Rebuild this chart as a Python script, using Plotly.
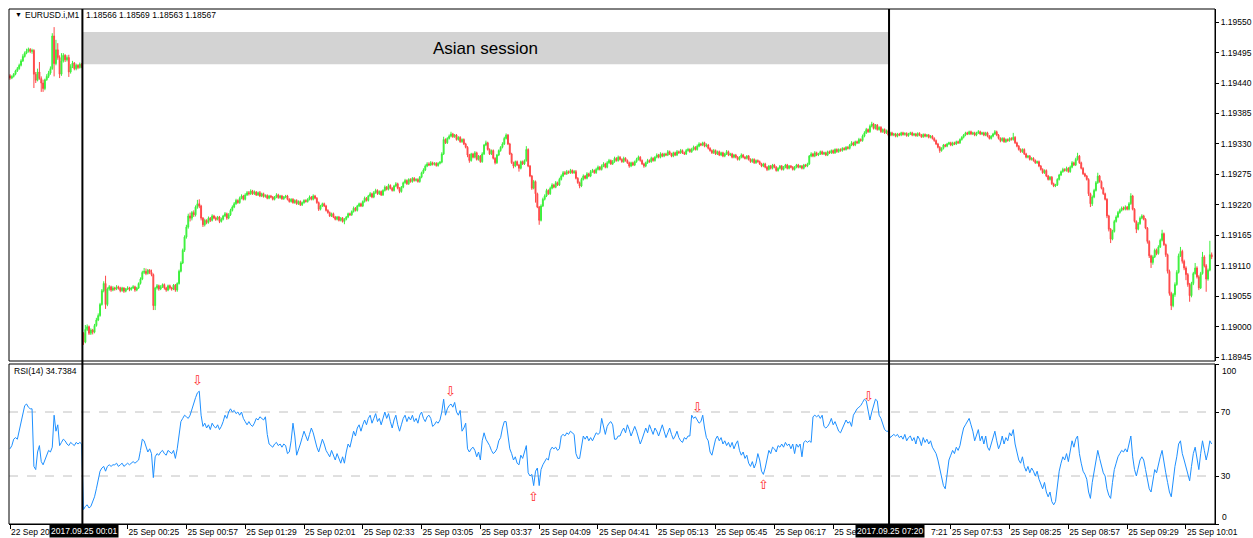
import plotly.graph_objects as go

# ---------------- data (prices stored as points above BASE, 1 point = 0.00001) ----------------
BASE = 1.18900
PT = 0.00001

opens_pts = [
    553,549,552,556,562,566,572,580,588,594,
    598,601,597,599,556,545,560,548,540,530,
    546,552,558,566,625,575,600,586,556,580,
    590,582,586,560,570,576,566,572,568,574,
    88,72,95,100,88,94,90,102,112,120,
    140,165,178,140,168,172,166,170,168,172,
    170,165,170,164,168,170,167,170,172,166,
    170,178,186,198,200,196,202,198,194,138,
    170,174,168,172,176,170,166,174,170,168,
    175,166,178,200,215,238,262,280,300,296,
    306,302,316,322,318,296,284,292,288,296,
    292,300,296,294,298,290,294,300,304,296,
    302,310,316,322,328,324,332,336,330,338,
    342,340,345,340,343,338,342,336,340,335,
    337,332,336,334,330,334,338,333,336,331,
    334,336,330,326,330,324,328,322,326,320,
    324,328,326,330,334,330,336,332,324,312,
    318,322,318,310,306,300,304,298,294,298,
    292,296,290,294,298,304,302,308,314,310,
    318,322,318,326,332,328,336,340,334,342,
    346,340,344,338,346,352,348,355,350,346,
    354,358,350,344,352,360,364,358,366,362,
    368,364,366,362,370,378,383,390,394,392,
    396,393,395,391,395,397,412,438,432,440,
    444,448,443,446,438,442,434,438,430,424,
    410,400,412,406,414,402,408,398,412,428,
    432,420,412,418,404,396,410,418,424,430,
    440,446,430,412,396,390,398,392,386,398,
    394,400,420,390,372,350,362,340,316,292,
    318,330,336,346,340,350,356,352,360,356,
    366,372,378,376,380,378,382,378,380,368,
    360,354,366,372,368,376,372,380,382,378,
    384,388,384,390,394,388,396,400,394,398,
    404,400,406,402,398,404,400,396,390,396,
    392,398,402,406,400,394,390,396,400,398,
    404,400,406,410,406,412,408,412,410,416,
    412,408,414,410,416,414,418,414,412,418,
    420,416,420,424,420,426,430,428,432,426,
    428,422,418,414,418,412,416,410,414,408,
    412,416,410,412,406,410,406,402,406,410,
    406,404,408,402,398,402,396,400,398,394,
    390,394,388,384,390,386,392,388,382,386,
    390,384,388,392,386,390,388,384,388,392,
    388,390,386,392,390,394,408,412,408,414,
    410,412,416,412,414,410,416,414,418,414,
    420,416,420,418,422,420,424,422,428,432,
    428,434,432,438,436,444,450,456,452,462,
    466,458,464,456,460,452,456,450,454,446,
    450,446,448,444,448,446,450,447,449,445,
    448,450,446,448,445,449,446,443,447,444,
    446,442,444,440,436,430,424,418,422,428,
    426,430,432,428,432,430,434,432,438,442,
    446,450,448,452,448,450,446,450,452,448,
    450,446,450,444,440,444,448,452,446,440,
    436,440,434,438,436,440,438,442,432,426,
    420,416,420,412,406,408,402,404,400,396,
    398,390,384,378,382,372,366,370,358,354,
    356,366,374,380,384,382,386,380,388,396,
    392,402,408,396,386,376,372,366,340,322,
    334,346,360,372,362,350,340,330,300,276,
    258,272,290,298,306,310,314,312,316,312,
    322,336,312,290,276,286,296,300,294,278,
    254,228,216,226,238,232,244,256,268,248,
    230,200,160,138,158,176,198,228,236,218,
    206,194,176,156,178,196,206,190,170,196,
    226,210,186,202,230,
]

highs_pts = [
    556,554,558,564,569,575,583,592,597,602,
    604,603,602,601,560,566,578,552,546,548,
    556,562,570,630,641,618,612,590,594,594,
    592,590,591,574,580,578,575,574,577,576,
    90,103,104,102,97,96,105,116,124,143,
    168,182,192,171,175,174,173,172,175,174,
    172,172,171,170,173,172,172,175,174,172,
    180,189,201,206,205,204,204,203,196,172,
    177,176,175,178,178,172,176,176,172,177,
    177,180,203,218,241,265,284,304,306,309,
    310,319,329,330,320,298,295,294,299,298,
    303,302,299,300,300,297,302,307,306,305,
    313,319,325,331,330,335,339,338,341,345,
    345,348,347,346,345,344,345,342,342,339,
    339,338,338,336,336,341,340,338,338,336,
    338,338,332,332,332,330,330,328,328,326,
    330,330,332,337,336,339,338,334,326,320,
    324,324,320,312,308,306,306,300,300,300,
    298,298,296,300,306,306,310,317,316,320,
    324,324,328,335,334,338,343,342,345,349,
    348,346,346,348,355,354,358,357,352,356,
    361,360,352,354,362,367,366,368,368,370,
    370,368,368,372,380,386,393,397,397,399,
    398,397,397,397,399,415,443,440,442,447,
    452,450,448,448,444,444,440,440,432,426,
    412,414,414,417,416,410,410,415,430,436,
    434,422,420,420,406,412,420,426,433,443,
    449,448,432,414,398,400,400,394,400,400,
    402,426,422,392,374,365,364,342,318,321,
    333,339,349,348,353,359,358,363,362,369,
    375,381,381,383,382,385,384,383,383,370,
    362,369,375,374,379,378,383,385,384,387,
    391,390,393,397,396,399,403,402,401,407,
    406,409,408,404,407,406,402,398,398,398,
    400,405,409,408,402,396,398,403,402,407,
    406,408,413,412,415,414,414,414,419,418,
    414,416,416,419,418,421,420,416,421,423,
    422,423,427,426,429,433,432,434,434,431,
    430,424,420,421,420,418,418,416,416,414,
    419,418,414,414,412,412,408,408,413,412,
    408,410,410,404,404,404,402,402,400,396,
    396,396,390,392,392,394,394,390,388,392,
    392,390,394,394,392,392,390,390,394,394,
    392,392,394,394,396,410,415,414,417,416,
    414,418,418,416,416,418,418,420,420,422,
    422,422,422,424,424,426,426,430,435,434,
    436,436,441,440,447,453,459,458,465,470,
    468,466,466,462,462,458,458,456,456,452,
    452,450,450,450,450,452,452,451,451,450,
    452,452,450,450,451,451,448,449,449,448,
    448,446,446,442,438,432,426,424,430,430,
    432,434,434,434,434,436,436,440,444,448,
    452,452,454,454,452,452,452,455,454,452,
    452,452,452,446,446,450,455,454,448,442,
    442,442,440,440,442,442,450,444,434,428,
    422,422,422,414,410,410,406,406,402,400,
    400,392,386,384,384,374,372,372,360,358,
    368,376,382,387,386,389,388,391,399,398,
    405,414,410,398,388,378,374,368,342,337,
    349,363,378,374,364,352,342,332,302,278,
    275,293,301,309,313,317,317,319,318,325,
    341,338,314,292,289,299,303,302,296,280,
    256,230,229,241,241,247,259,275,270,250,
    232,203,163,161,180,202,232,244,239,221,
    209,197,179,181,199,215,209,193,199,235,
    229,213,205,255,234,
]

lows_pts = [
    546,547,550,554,560,564,570,578,586,592,
    595,594,593,531,540,543,546,524,524,527,
    544,549,555,564,552,572,582,549,553,577,
    578,579,551,557,567,563,563,565,566,567,
    67,70,92,85,85,86,88,100,110,118,
    138,162,132,137,165,163,164,165,166,167,
    162,163,161,162,166,164,165,168,163,164,
    168,176,184,195,193,194,195,191,130,130,
    167,165,166,170,167,163,164,167,165,166,
    163,163,176,198,213,235,259,277,290,292,
    298,299,313,314,292,280,281,285,286,289,
    290,294,291,292,287,288,292,298,293,294,
    300,308,314,320,322,322,330,328,328,336,
    337,338,338,338,336,336,334,334,333,333,
    330,330,332,328,328,332,331,331,329,329,
    332,328,324,324,322,322,320,320,318,318,
    322,324,324,328,328,328,330,322,309,310,
    316,316,308,304,298,298,296,292,292,290,
    290,288,285,292,296,300,300,306,308,308,
    316,316,316,324,326,326,334,332,332,340,
    338,338,336,336,344,346,346,348,344,344,
    352,348,341,342,350,358,356,356,360,360,
    362,362,360,360,368,376,381,388,390,390,
    391,391,389,389,393,395,410,430,430,438,
    442,441,441,436,436,432,432,428,422,406,
    396,398,404,404,400,400,396,396,410,426,
    418,410,410,402,393,394,408,416,422,428,
    438,428,410,394,386,388,390,380,384,392,
    392,398,388,370,347,348,324,314,284,290,
    316,328,334,338,338,348,350,350,354,354,
    364,370,374,374,376,376,376,376,366,358,
    350,352,364,366,366,370,370,378,376,376,
    382,382,382,388,386,386,394,392,392,396,
    398,398,400,396,396,398,394,387,388,390,
    390,396,400,398,392,387,388,394,396,396,
    398,398,404,404,404,406,406,408,408,410,
    406,406,408,408,412,412,412,410,410,416,
    414,414,418,418,418,424,426,426,424,424,
    420,416,412,412,410,410,408,408,406,406,
    410,408,408,404,404,404,400,400,404,404,
    402,402,400,396,396,394,394,396,392,388,
    388,386,381,382,384,384,386,380,380,384,
    382,382,386,384,384,386,382,382,386,386,
    386,384,384,388,388,392,406,406,406,408,
    408,410,410,410,408,408,412,412,412,412,
    414,414,416,416,418,418,420,420,426,426,
    426,430,430,434,434,442,448,450,450,460,
    456,456,454,454,450,450,448,448,444,444,
    444,444,442,442,444,444,445,445,443,443,
    446,444,444,443,443,444,441,441,442,442,
    440,440,438,434,428,422,414,416,420,424,
    424,428,426,426,428,428,430,430,436,440,
    444,446,446,446,446,444,444,448,446,446,
    444,444,442,438,438,442,446,444,438,433,
    434,432,432,434,434,436,436,430,424,418,
    414,414,410,404,404,400,400,398,394,394,
    388,382,376,376,370,364,364,356,352,352,
    354,364,372,378,380,380,378,378,386,390,
    390,400,394,384,374,370,364,336,316,318,
    332,344,358,360,348,338,328,296,272,251,
    256,270,288,296,304,308,310,310,310,310,
    320,310,288,269,274,284,294,292,276,250,
    224,206,212,224,229,230,242,254,246,226,
    196,156,130,135,154,174,196,226,214,202,
    184,172,145,153,175,194,187,166,168,194,
    207,163,183,200,222,
]

closes_pts = [
    549,552,556,562,566,572,580,588,594,598,
    601,597,599,556,545,560,548,540,530,546,
    552,558,566,625,575,600,586,556,580,590,
    582,586,560,570,576,566,572,568,574,570,
    72,95,100,88,94,90,102,112,120,140,
    165,178,140,168,172,166,170,168,172,170,
    165,170,164,168,170,167,170,172,166,170,
    178,186,198,200,196,202,198,194,138,170,
    174,168,172,176,170,166,174,170,168,175,
    166,178,200,215,238,262,280,300,296,306,
    302,316,322,318,296,284,292,288,296,292,
    300,296,294,298,290,294,300,304,296,302,
    310,316,322,328,324,332,336,330,338,342,
    340,345,340,343,338,342,336,340,335,337,
    332,336,334,330,334,338,333,336,331,334,
    336,330,326,330,324,328,322,326,320,324,
    328,326,330,334,330,336,332,324,312,318,
    322,318,310,306,300,304,298,294,298,292,
    296,290,294,298,304,302,308,314,310,318,
    322,318,326,332,328,336,340,334,342,346,
    340,344,338,346,352,348,355,350,346,354,
    358,350,344,352,360,364,358,366,362,368,
    364,366,362,370,378,383,390,394,392,396,
    393,395,391,395,397,412,438,432,440,444,
    448,443,446,438,442,434,438,430,424,410,
    400,412,406,414,402,408,398,412,428,432,
    420,412,418,404,396,410,418,424,430,440,
    446,430,412,396,390,398,392,386,398,394,
    400,420,390,372,350,362,340,316,292,318,
    330,336,346,340,350,356,352,360,356,366,
    372,378,376,380,378,382,378,380,368,360,
    354,366,372,368,376,372,380,382,378,384,
    388,384,390,394,388,396,400,394,398,404,
    400,406,402,398,404,400,396,390,396,392,
    398,402,406,400,394,390,396,400,398,404,
    400,406,410,406,412,408,412,410,416,412,
    408,414,410,416,414,418,414,412,418,420,
    416,420,424,420,426,430,428,432,426,428,
    422,418,414,418,412,416,410,414,408,412,
    416,410,412,406,410,406,402,406,410,406,
    404,408,402,398,402,396,400,398,394,390,
    394,388,384,390,386,392,388,382,386,390,
    384,388,392,386,390,388,384,388,392,388,
    390,386,392,390,394,408,412,408,414,410,
    412,416,412,414,410,416,414,418,414,420,
    416,420,418,422,420,424,422,428,432,428,
    434,432,438,436,444,450,456,452,462,466,
    458,464,456,460,452,456,450,454,446,450,
    446,448,444,448,446,450,447,449,445,448,
    450,446,448,445,449,446,443,447,444,446,
    442,444,440,436,430,424,418,422,428,426,
    430,432,428,432,430,434,432,438,442,446,
    450,448,452,448,450,446,450,452,448,450,
    446,450,444,440,444,448,452,446,440,436,
    440,434,438,436,440,438,442,432,426,420,
    416,420,412,406,408,402,404,400,396,398,
    390,384,378,382,372,366,370,358,354,356,
    366,374,380,384,382,386,380,388,396,392,
    402,408,396,386,376,372,366,340,322,334,
    346,360,372,362,350,340,330,300,276,258,
    272,290,298,306,310,314,312,316,312,322,
    336,312,290,276,286,296,300,294,278,254,
    228,216,226,238,232,244,256,268,248,230,
    200,160,138,158,176,198,228,236,218,206,
    194,176,156,178,196,206,190,170,196,226,
    210,186,202,230,226,
]

rsi_values = [
    47,49,53,54,53,58,64,70,74,75,
    73,72,72,36,34,45,49,39,37,40,
    43,46,45,48,68,58,62,49,51,53,
    52,50,49,51,50,49,51,50,51,50,
    9,11,12,10,11,14,17,22,28,33,
    35,36,33,36,37,36,37,37,38,36,
    37,38,36,37,38,37,38,39,38,39,
    40,46,53,52,48,45,47,44,29,42,
    44,43,45,46,44,43,46,45,44,46,
    41,47,56,64,66,68,67,66,68,72,
    75,79,82,83,68,61,63,60,62,59,
    63,61,60,62,59,61,64,68,66,70,
    72,70,71,69,70,68,70,66,64,62,
    64,62,61,63,66,65,67,66,65,67,
    56,50,49,48,50,51,49,50,48,50,
    49,44,45,52,63,55,43,46,50,54,
    58,55,52,56,60,57,52,48,45,50,
    53,50,46,44,42,46,43,40,44,41,
    38,42,38,45,50,48,54,58,55,60,
    62,58,62,65,62,66,68,63,66,69,
    64,66,62,67,70,66,69,64,60,65,
    68,62,58,62,66,68,64,67,65,68,
    64,66,63,68,70,66,64,67,68,66,
    61,62,64,63,65,70,78,68,72,74,
    75,73,76,70,68,71,58,60,63,47,
    45,47,48,46,42,45,40,52,57,53,
    51,49,46,44,45,47,52,54,60,64,
    64,55,47,44,40,42,38,37,43,41,
    45,49,32,30,31,24,33,35,24,34,
    37,39,41,40,46,48,47,48,46,47,
    55,56,55,57,56,58,57,56,44,41,
    41,48,55,53,55,52,54,52,55,57,
    56,57,66,60,56,61,63,64,62,53,
    53,55,55,58,60,57,62,59,55,58,
    61,58,54,50,53,56,60,57,62,59,
    56,60,58,55,59,62,58,54,57,60,
    56,53,55,58,54,52,51,54,53,55,
    55,68,66,67,65,63,64,68,60,54,
    52,45,43,48,53,55,52,54,50,52,
    49,51,48,51,47,50,52,46,43,45,
    41,43,38,36,39,35,38,44,40,33,
    31,35,41,46,44,48,47,45,49,48,
    50,48,51,49,50,47,50,44,50,48,
    50,42,51,52,51,52,51,67,68,67,
    68,66,68,61,60,61,63,66,62,64,
    61,58,57,60,62,65,63,64,61,68,
    70,72,73,74,76,78,77,72,65,70,
    74,78,77,68,66,63,59,58,58,54,
    55,56,55,56,54,55,53,56,52,54,
    55,52,54,50,55,53,49,54,51,53,
    50,52,48,46,44,40,34,28,24,22,
    32,40,43,46,44,48,46,49,55,60,
    62,64,66,62,58,52,56,59,52,55,
    50,55,48,46,50,54,58,52,47,50,
    55,50,54,52,57,55,59,50,44,40,
    38,42,36,33,36,32,35,33,30,33,
    28,25,22,26,20,17,20,14,12,14,
    25,33,38,42,40,44,39,46,52,48,
    53,55,44,38,33,31,28,20,16,26,
    33,40,46,41,36,32,30,22,18,16,
    26,34,38,42,44,46,45,47,45,50,
    55,42,34,30,36,40,42,40,34,27,
    22,20,28,34,32,38,42,46,38,32,
    26,20,17,28,36,42,50,52,44,40,
    36,32,27,36,44,48,40,34,44,52,
    46,40,45,52,50,
]

# time-axis ticks every 32 bars; labels partly hidden behind the session boxes
# are kept only as far as they are visible in the chart
tick_bars = [0, 32, 64, 96, 128, 160, 192, 224, 256, 288, 320,
             352, 384, 416, 448, 480, 512, 544, 576, 608, 640]
tick_labels = ["22 Sep 20", "", "25 Sep 00:25", "25 Sep 00:57",
               "25 Sep 01:29", "25 Sep 02:01", "25 Sep 02:33", "25 Sep 03:05",
               "25 Sep 03:37", "25 Sep 04:09", "25 Sep 04:41", "25 Sep 05:13",
               "25 Sep 05:45", "25 Sep 06:17", "25 Se", "",
               "25 Sep 07:53", "25 Sep 08:25", "25 Sep 08:57", "25 Sep 09:29",
               "25 Sep 10:01"]
partial_tail_bar = 480
partial_tail_text = "7:21"
price_ticks = [1.18945, 1.19000, 1.19055, 1.19110, 1.19165, 1.19220,
               1.19275, 1.19330, 1.19385, 1.19440, 1.19495, 1.19550]
rsi_levels = [30, 70]

session_start_bar = 40      # 2017.09.25 00:01
session_end_bar = 479       # 2017.09.25 07:20
session_labels = ["2017.09.25 00:01", "2017.09.25 07:20"]
session_top, session_bottom = 1.19532, 1.19474
sell_signal_bars = [102, 240, 374, 467]
buy_signal_bars = [285, 410]

header_symbol = "EURUSD.i,M1"
header_quotes = "1.18566 1.18569 1.18563 1.18567"
rsi_header = "RSI(14) 34.7384"

n = len(closes_pts)
assert len(opens_pts) == len(highs_pts) == len(lows_pts) == n == len(rsi_values)
bars = list(range(n))
to_price = lambda arr: [BASE + v * PT for v in arr]

# ---------------- layout geometry ----------------
W, H = 1253, 538
ML, MR, MT, MB = 9, 38, 9, 14
PW, PH = W - ML - MR, H - MT - MB
def px_x(px):
    return (px - ML) / PW
def px_y(py):
    return 1 - (py - MT) / PH

FONT = "Liberation Sans, Arial, sans-serif"
fig = go.Figure()

fig.add_trace(go.Candlestick(
    x=bars, open=to_price(opens_pts), high=to_price(highs_pts),
    low=to_price(lows_pts), close=to_price(closes_pts),
    increasing=dict(line=dict(color="#3cf03c", width=1), fillcolor="#3cf03c"),
    decreasing=dict(line=dict(color="#ff4848", width=1), fillcolor="#ff4848"),
    whiskerwidth=0, hoverinfo="skip", showlegend=False, xaxis="x", yaxis="y",
))
fig.add_trace(go.Scatter(
    x=bars, y=rsi_values, mode="lines", line=dict(color="#1e90ff", width=1),
    hoverinfo="skip", showlegend=False, xaxis="x", yaxis="y2",
))

shapes = []
line_off = 0.6
x_start = session_start_bar - line_off
x_end = session_end_bar - line_off
shapes.append(dict(type="rect", xref="x", yref="y", x0=x_start, x1=x_end,
                   y0=session_bottom, y1=session_top, fillcolor="#d3d3d3",
                   line=dict(width=0), layer="below"))
for lv in rsi_levels:
    shapes.append(dict(type="line", xref="paper", yref="y2", x0=0, x1=1, y0=lv, y1=lv,
                       line=dict(color="#c0c0c0", width=1, dash="dash"), layer="below"))
shapes.append(dict(type="rect", xref="paper", yref="y domain", x0=0, x1=1, y0=0, y1=1,
                   line=dict(color="black", width=1)))
shapes.append(dict(type="rect", xref="paper", yref="y2 domain", x0=0, x1=1, y0=0, y1=1,
                   line=dict(color="black", width=1)))
for xv in (x_start, x_end):
    shapes.append(dict(type="line", xref="x", yref="paper", x0=xv, x1=xv, y0=0, y1=1,
                       line=dict(color="black", width=2), layer="above"))

annotations = []
annotations.append(dict(x=(x_start + x_end) / 2, y=(session_top + session_bottom) / 2,
                        xref="x", yref="y", text="Asian session", showarrow=False,
                        font=dict(family=FONT, size=17, color="black")))
annotations.append(dict(x=px_x(13), y=px_y(15), xref="paper", yref="paper", text="▼",
                        showarrow=False, xanchor="left", yanchor="middle",
                        font=dict(family=FONT, size=7, color="black")))
annotations.append(dict(x=px_x(23), y=px_y(15), xref="paper", yref="paper", text=header_symbol,
                        showarrow=False, xanchor="left", yanchor="middle",
                        font=dict(family=FONT, size=8.5, color="black")))
annotations.append(dict(x=px_x(84), y=px_y(15), xref="paper", yref="paper", text=header_quotes,
                        showarrow=False, xanchor="left", yanchor="middle",
                        font=dict(family=FONT, size=8.5, color="black")))
annotations.append(dict(x=px_x(12), y=px_y(371), xref="paper", yref="paper", text=rsi_header,
                        showarrow=False, xanchor="left", yanchor="middle",
                        font=dict(family=FONT, size=8.5, color="black")))
annotations.append(dict(x=1, y=100, xref="paper", yref="y2", text="100", showarrow=False,
                        xanchor="left", yanchor="top", xshift=5,
                        font=dict(family=FONT, size=8.5, color="black")))
annotations.append(dict(x=1, y=0, xref="paper", yref="y2", text="0", showarrow=False,
                        xanchor="left", yanchor="bottom", xshift=5,
                        font=dict(family=FONT, size=8.5, color="black")))
for b in sell_signal_bars:
    annotations.append(dict(x=b, y=rsi_values[b], xref="x", yref="y2", text="⇩",
                            showarrow=False, yanchor="bottom", yshift=3,
                            font=dict(family="DejaVu Sans", size=13, color="#ff2a2a")))
for b in buy_signal_bars:
    annotations.append(dict(x=b, y=rsi_values[b], xref="x", yref="y2", text="⇧",
                            showarrow=False, yanchor="top", yshift=-1,
                            font=dict(family="DejaVu Sans", size=13, color="#ff2a2a")))
# visible tail of the time label that sits behind the second session box
annotations.append(dict(x=partial_tail_bar, y=px_y(532), xref="x", yref="paper",
                        text=partial_tail_text, showarrow=False, xanchor="left",
                        yanchor="middle", xshift=37,
                        font=dict(family=FONT, size=8.5, color="black")))
for xb, lab in zip((session_start_bar, session_end_bar), session_labels):
    annotations.append(dict(x=xb, y=px_y(531), xref="x", yref="paper", text=lab,
                            showarrow=False, yanchor="middle", bgcolor="black", borderpad=1,
                            font=dict(family=FONT, size=8.5, color="white")))

fig.update_layout(
    width=W, height=H, margin=dict(l=ML, r=MR, t=MT, b=MB, autoexpand=False),
    paper_bgcolor="white", plot_bgcolor="white", showlegend=False,
    xaxis=dict(range=[-0.55, 655.8], anchor="y2", showgrid=False, zeroline=False,
               automargin=False, tickangle=0,
               rangeslider=dict(visible=False), tickmode="array", tickvals=tick_bars,
               ticktext=tick_labels, ticks="outside", ticklen=4, tickcolor="black",
               ticklabelposition="outside right", showline=True, linecolor="black",
               tickfont=dict(family=FONT, size=8.5, color="black")),
    yaxis=dict(domain=[px_y(361), 1], range=[BASE + 38 * PT, BASE + 673.7 * PT],
               side="right", showgrid=False, zeroline=False, tickmode="array",
               automargin=False,
               tickvals=price_ticks, ticktext=["%.5f" % v for v in price_ticks],
               ticks="outside", ticklen=3, tickcolor="black", showline=True,
               linecolor="black", tickfont=dict(family=FONT, size=8.5, color="black")),
    yaxis2=dict(domain=[0, px_y(364)], range=[0, 100], side="right", showgrid=False,
                zeroline=False, tickmode="array", tickvals=[0, 30, 70, 100],
                automargin=False,
                ticktext=["", "30", "70", ""], ticks="outside", ticklen=3,
                tickcolor="black", showline=True, linecolor="black",
                tickfont=dict(family=FONT, size=8.5, color="black")),
    shapes=shapes, annotations=annotations,
)

fig.write_html("out.html", config={"displayModeBar": False},
               post_script="document.body.style.margin='0';document.body.style.overflow='hidden';")
